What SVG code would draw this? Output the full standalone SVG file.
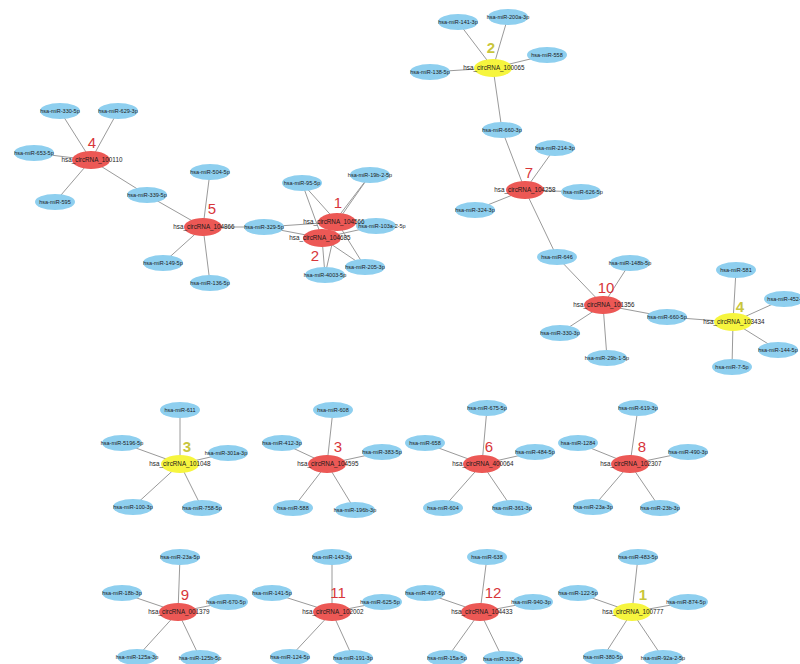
<svg xmlns="http://www.w3.org/2000/svg" width="800" height="664" viewBox="0 0 800 664">
<style>
.e{stroke:#9a9a9a;stroke-width:1;fill:none}
.m{fill:#8ecfef}
.r{fill:#ec5855}
.y{fill:#f6f53e}
.t{font-family:"Liberation Sans",Arial,sans-serif;font-size:5.5px;fill:#1a1a1a;text-anchor:middle}
.ct{font-family:"Liberation Sans",Arial,sans-serif;font-size:6.3px;fill:#1a1a1a;text-anchor:middle}
.nr{font-family:"Liberation Sans",Arial,sans-serif;font-size:15px;fill:#d8363a;text-anchor:middle}
.ny{font-family:"Liberation Sans",Arial,sans-serif;font-size:15px;fill:#c9c63c;text-anchor:middle;font-weight:bold}
</style>
<rect width="800" height="664" fill="#ffffff"/>
<g id="connectors">
<line class="e" x1="91" y1="160" x2="60" y2="111"/>
<line class="e" x1="91" y1="160" x2="118" y2="111"/>
<line class="e" x1="91" y1="160" x2="34" y2="153"/>
<line class="e" x1="91" y1="160" x2="55" y2="202"/>
<line class="e" x1="91" y1="160" x2="147" y2="195"/>
<line class="e" x1="203" y1="227" x2="147" y2="195"/>
<line class="e" x1="203" y1="227" x2="210" y2="172"/>
<line class="e" x1="203" y1="227" x2="163" y2="263"/>
<line class="e" x1="203" y1="227" x2="210" y2="283"/>
<line class="e" x1="203" y1="227" x2="264" y2="227"/>
<line class="e" x1="337" y1="222" x2="264" y2="227"/>
<line class="e" x1="337" y1="222" x2="302" y2="183"/>
<line class="e" x1="337" y1="222" x2="370" y2="175"/>
<line class="e" x1="337" y1="222" x2="376" y2="226"/>
<line class="e" x1="337" y1="222" x2="365" y2="267"/>
<line class="e" x1="337" y1="222" x2="325" y2="275"/>
<line class="e" x1="322" y1="238" x2="264" y2="227"/>
<line class="e" x1="322" y1="238" x2="302" y2="183"/>
<line class="e" x1="322" y1="238" x2="370" y2="175"/>
<line class="e" x1="322" y1="238" x2="376" y2="226"/>
<line class="e" x1="322" y1="238" x2="365" y2="267"/>
<line class="e" x1="322" y1="238" x2="325" y2="275"/>
<line class="e" x1="493" y1="68" x2="458" y2="22"/>
<line class="e" x1="493" y1="68" x2="508" y2="17"/>
<line class="e" x1="493" y1="68" x2="547" y2="55"/>
<line class="e" x1="493" y1="68" x2="430" y2="72"/>
<line class="e" x1="493" y1="68" x2="502" y2="130"/>
<line class="e" x1="525" y1="190" x2="502" y2="130"/>
<line class="e" x1="525" y1="190" x2="555" y2="148"/>
<line class="e" x1="525" y1="190" x2="581" y2="192"/>
<line class="e" x1="525" y1="190" x2="475" y2="210"/>
<line class="e" x1="525" y1="190" x2="557" y2="257"/>
<line class="e" x1="603" y1="305" x2="557" y2="257"/>
<line class="e" x1="603" y1="305" x2="630" y2="263"/>
<line class="e" x1="603" y1="305" x2="560" y2="333"/>
<line class="e" x1="603" y1="305" x2="607" y2="358"/>
<line class="e" x1="603" y1="305" x2="667" y2="317"/>
<line class="e" x1="733" y1="322" x2="667" y2="317"/>
<line class="e" x1="733" y1="322" x2="736" y2="270"/>
<line class="e" x1="733" y1="322" x2="784" y2="299"/>
<line class="e" x1="733" y1="322" x2="778" y2="350"/>
<line class="e" x1="733" y1="322" x2="732" y2="367"/>
<line class="e" x1="180" y1="464" x2="180" y2="410"/>
<line class="e" x1="180" y1="464" x2="122" y2="443"/>
<line class="e" x1="180" y1="464" x2="228" y2="453"/>
<line class="e" x1="180" y1="464" x2="133" y2="507"/>
<line class="e" x1="180" y1="464" x2="202" y2="508"/>
<line class="e" x1="327" y1="464" x2="333" y2="410"/>
<line class="e" x1="327" y1="464" x2="282" y2="443"/>
<line class="e" x1="327" y1="464" x2="382" y2="452"/>
<line class="e" x1="327" y1="464" x2="293" y2="508"/>
<line class="e" x1="327" y1="464" x2="355" y2="510"/>
<line class="e" x1="482" y1="464" x2="487" y2="408"/>
<line class="e" x1="482" y1="464" x2="425" y2="443"/>
<line class="e" x1="482" y1="464" x2="535" y2="452"/>
<line class="e" x1="482" y1="464" x2="443" y2="508"/>
<line class="e" x1="482" y1="464" x2="512" y2="508"/>
<line class="e" x1="630" y1="464" x2="638" y2="408"/>
<line class="e" x1="630" y1="464" x2="578" y2="443"/>
<line class="e" x1="630" y1="464" x2="688" y2="452"/>
<line class="e" x1="630" y1="464" x2="593" y2="507"/>
<line class="e" x1="630" y1="464" x2="660" y2="508"/>
<line class="e" x1="178" y1="612" x2="180" y2="557"/>
<line class="e" x1="178" y1="612" x2="122" y2="593"/>
<line class="e" x1="178" y1="612" x2="228" y2="602"/>
<line class="e" x1="178" y1="612" x2="137" y2="657"/>
<line class="e" x1="178" y1="612" x2="200" y2="658"/>
<line class="e" x1="332" y1="612" x2="332" y2="557"/>
<line class="e" x1="332" y1="612" x2="272" y2="593"/>
<line class="e" x1="332" y1="612" x2="382" y2="602"/>
<line class="e" x1="332" y1="612" x2="290" y2="657"/>
<line class="e" x1="332" y1="612" x2="353" y2="658"/>
<line class="e" x1="480" y1="612" x2="487" y2="557"/>
<line class="e" x1="480" y1="612" x2="425" y2="593"/>
<line class="e" x1="480" y1="612" x2="533" y2="602"/>
<line class="e" x1="480" y1="612" x2="447" y2="658"/>
<line class="e" x1="480" y1="612" x2="503" y2="659"/>
<line class="e" x1="632" y1="612" x2="638" y2="557"/>
<line class="e" x1="632" y1="612" x2="578" y2="593"/>
<line class="e" x1="632" y1="612" x2="688" y2="602"/>
<line class="e" x1="632" y1="612" x2="603" y2="657"/>
<line class="e" x1="632" y1="612" x2="663" y2="658"/>
</g>
<g id="m330_5p"><ellipse class="m" cx="60" cy="111" rx="20" ry="8"/><text class="t" x="60" y="113">hsa-miR-330-5p</text></g>
<g id="m629_3p"><ellipse class="m" cx="118" cy="111" rx="20" ry="8"/><text class="t" x="118" y="113">hsa-miR-629-3p</text></g>
<g id="m653_5p"><ellipse class="m" cx="34" cy="153" rx="20" ry="8"/><text class="t" x="34" y="155">hsa-miR-653-5p</text></g>
<g id="m595"><ellipse class="m" cx="55" cy="202" rx="20" ry="8"/><text class="t" x="55" y="204">hsa-miR-595</text></g>
<g id="m339_5p"><ellipse class="m" cx="147" cy="195" rx="20" ry="8"/><text class="t" x="147" y="197">hsa-miR-339-5p</text></g>
<g id="m504_5p"><ellipse class="m" cx="210" cy="172" rx="20" ry="8"/><text class="t" x="210" y="174">hsa-miR-504-5p</text></g>
<g id="m149_5p"><ellipse class="m" cx="163" cy="263" rx="20" ry="8"/><text class="t" x="163" y="265">hsa-miR-149-5p</text></g>
<g id="m136_5p"><ellipse class="m" cx="210" cy="283" rx="20" ry="8"/><text class="t" x="210" y="285">hsa-miR-136-5p</text></g>
<g id="m329_5p"><ellipse class="m" cx="264" cy="227" rx="20" ry="8"/><text class="t" x="264" y="229">hsa-miR-329-5p</text></g>
<g id="m95_5p"><ellipse class="m" cx="302" cy="183" rx="20" ry="8"/><text class="t" x="302" y="185">hsa-miR-95-5p</text></g>
<g id="m19b_2_5p"><ellipse class="m" cx="370" cy="175" rx="20" ry="8"/><text class="t" x="370" y="177">hsa-miR-19b-2-5p</text></g>
<g id="m103a_2_5p"><ellipse class="m" cx="376" cy="226" rx="20" ry="8"/><text class="t" x="382" y="228">hsa-miR-103a-2-5p</text></g>
<g id="m205_3p"><ellipse class="m" cx="365" cy="267" rx="20" ry="8"/><text class="t" x="365" y="269">hsa-miR-205-3p</text></g>
<g id="m4003_5p"><ellipse class="m" cx="325" cy="275" rx="20" ry="8"/><text class="t" x="325" y="277">hsa-miR-4003-5p</text></g>
<g id="m141_3p"><ellipse class="m" cx="458" cy="22" rx="20" ry="8"/><text class="t" x="458" y="24">hsa-miR-141-3p</text></g>
<g id="m200a_3p"><ellipse class="m" cx="508" cy="17" rx="20" ry="8"/><text class="t" x="508" y="19">hsa-miR-200a-3p</text></g>
<g id="m558"><ellipse class="m" cx="547" cy="55" rx="20" ry="8"/><text class="t" x="547" y="57">hsa-miR-558</text></g>
<g id="m138_5p"><ellipse class="m" cx="430" cy="72" rx="20" ry="8"/><text class="t" x="430" y="74">hsa-miR-138-5p</text></g>
<g id="m660_3p"><ellipse class="m" cx="502" cy="130" rx="20" ry="8"/><text class="t" x="502" y="132">hsa-miR-660-3p</text></g>
<g id="m214_3p"><ellipse class="m" cx="555" cy="148" rx="20" ry="8"/><text class="t" x="555" y="150">hsa-miR-214-3p</text></g>
<g id="m626_5p"><ellipse class="m" cx="581" cy="192" rx="20" ry="8"/><text class="t" x="583" y="194">hsa-miR-626-5p</text></g>
<g id="m324_3p"><ellipse class="m" cx="475" cy="210" rx="20" ry="8"/><text class="t" x="475" y="212">hsa-miR-324-3p</text></g>
<g id="m646"><ellipse class="m" cx="557" cy="257" rx="20" ry="8"/><text class="t" x="557" y="259">hsa-miR-646</text></g>
<g id="m148b_5p"><ellipse class="m" cx="630" cy="263" rx="20" ry="8"/><text class="t" x="630" y="265">hsa-miR-148b-5p</text></g>
<g id="m330_3p"><ellipse class="m" cx="560" cy="333" rx="20" ry="8"/><text class="t" x="560" y="335">hsa-miR-330-3p</text></g>
<g id="m29b_1_5p"><ellipse class="m" cx="607" cy="358" rx="20" ry="8"/><text class="t" x="607" y="360">hsa-miR-29b-1-5p</text></g>
<g id="m660_5p"><ellipse class="m" cx="667" cy="317" rx="20" ry="8"/><text class="t" x="667" y="319">hsa-miR-660-5p</text></g>
<g id="m581"><ellipse class="m" cx="736" cy="270" rx="20" ry="8"/><text class="t" x="736" y="272">hsa-miR-581</text></g>
<g id="m452"><ellipse class="m" cx="784" cy="299" rx="20" ry="8"/><text class="t" x="784" y="301">hsa-miR-452-</text></g>
<g id="m144_5p"><ellipse class="m" cx="778" cy="350" rx="20" ry="8"/><text class="t" x="778" y="352">hsa-miR-144-5p</text></g>
<g id="m7_5p"><ellipse class="m" cx="732" cy="367" rx="20" ry="8"/><text class="t" x="732" y="369">hsa-miR-7-5p</text></g>
<g id="m611"><ellipse class="m" cx="180" cy="410" rx="20" ry="8"/><text class="t" x="180" y="412">hsa-miR-611</text></g>
<g id="m5196_5p"><ellipse class="m" cx="122" cy="443" rx="20" ry="8"/><text class="t" x="122" y="445">hsa-miR-5196-5p</text></g>
<g id="m301a_3p"><ellipse class="m" cx="228" cy="453" rx="20" ry="8"/><text class="t" x="226" y="455">hsa-miR-301a-3p</text></g>
<g id="m100_3p"><ellipse class="m" cx="133" cy="507" rx="20" ry="8"/><text class="t" x="133" y="509">hsa-miR-100-3p</text></g>
<g id="m758_5p"><ellipse class="m" cx="202" cy="508" rx="20" ry="8"/><text class="t" x="202" y="510">hsa-miR-758-5p</text></g>
<g id="m608"><ellipse class="m" cx="333" cy="410" rx="20" ry="8"/><text class="t" x="333" y="412">hsa-miR-608</text></g>
<g id="m412_3p"><ellipse class="m" cx="282" cy="443" rx="20" ry="8"/><text class="t" x="282" y="445">hsa-miR-412-3p</text></g>
<g id="m383_5p"><ellipse class="m" cx="382" cy="452" rx="20" ry="8"/><text class="t" x="382" y="454">hsa-miR-383-5p</text></g>
<g id="m588"><ellipse class="m" cx="293" cy="508" rx="20" ry="8"/><text class="t" x="293" y="510">hsa-miR-588</text></g>
<g id="m196b_3p"><ellipse class="m" cx="355" cy="510" rx="20" ry="8"/><text class="t" x="355" y="512">hsa-miR-196b-3p</text></g>
<g id="m675_5p"><ellipse class="m" cx="487" cy="408" rx="20" ry="8"/><text class="t" x="487" y="410">hsa-miR-675-5p</text></g>
<g id="m658"><ellipse class="m" cx="425" cy="443" rx="20" ry="8"/><text class="t" x="425" y="445">hsa-miR-658</text></g>
<g id="m484_5p"><ellipse class="m" cx="535" cy="452" rx="20" ry="8"/><text class="t" x="535" y="454">hsa-miR-484-5p</text></g>
<g id="m604"><ellipse class="m" cx="443" cy="508" rx="20" ry="8"/><text class="t" x="443" y="510">hsa-miR-604</text></g>
<g id="m361_3p"><ellipse class="m" cx="512" cy="508" rx="20" ry="8"/><text class="t" x="512" y="510">hsa-miR-361-3p</text></g>
<g id="m619_3p"><ellipse class="m" cx="638" cy="408" rx="20" ry="8"/><text class="t" x="638" y="410">hsa-miR-619-3p</text></g>
<g id="m1284"><ellipse class="m" cx="578" cy="443" rx="20" ry="8"/><text class="t" x="578" y="445">hsa-miR-1284</text></g>
<g id="m490_3p"><ellipse class="m" cx="688" cy="452" rx="20" ry="8"/><text class="t" x="688" y="454">hsa-miR-490-3p</text></g>
<g id="m23a_3p"><ellipse class="m" cx="593" cy="507" rx="20" ry="8"/><text class="t" x="593" y="509">hsa-miR-23a-3p</text></g>
<g id="m23b_3p"><ellipse class="m" cx="660" cy="508" rx="20" ry="8"/><text class="t" x="660" y="510">hsa-miR-23b-3p</text></g>
<g id="m23a_5p"><ellipse class="m" cx="180" cy="557" rx="20" ry="8"/><text class="t" x="180" y="559">hsa-miR-23a-5p</text></g>
<g id="m18b_3p"><ellipse class="m" cx="122" cy="593" rx="20" ry="8"/><text class="t" x="122" y="595">hsa-miR-18b-3p</text></g>
<g id="m670_5p"><ellipse class="m" cx="228" cy="602" rx="20" ry="8"/><text class="t" x="226" y="604">hsa-miR-670-5p</text></g>
<g id="m125a_3p"><ellipse class="m" cx="137" cy="657" rx="20" ry="8"/><text class="t" x="137" y="659">hsa-miR-125a-3p</text></g>
<g id="m125b_5p"><ellipse class="m" cx="200" cy="658" rx="20" ry="8"/><text class="t" x="200" y="660">hsa-miR-125b-5p</text></g>
<g id="m143_3p"><ellipse class="m" cx="332" cy="557" rx="20" ry="8"/><text class="t" x="332" y="559">hsa-miR-143-3p</text></g>
<g id="m141_5p"><ellipse class="m" cx="272" cy="593" rx="20" ry="8"/><text class="t" x="272" y="595">hsa-miR-141-5p</text></g>
<g id="m625_5p"><ellipse class="m" cx="382" cy="602" rx="20" ry="8"/><text class="t" x="380" y="604">hsa-miR-625-5p</text></g>
<g id="m124_5p"><ellipse class="m" cx="290" cy="657" rx="20" ry="8"/><text class="t" x="290" y="659">hsa-miR-124-5p</text></g>
<g id="m191_3p"><ellipse class="m" cx="353" cy="658" rx="20" ry="8"/><text class="t" x="353" y="660">hsa-miR-191-3p</text></g>
<g id="m638"><ellipse class="m" cx="487" cy="557" rx="20" ry="8"/><text class="t" x="487" y="559">hsa-miR-638</text></g>
<g id="m497_5p"><ellipse class="m" cx="425" cy="593" rx="20" ry="8"/><text class="t" x="425" y="595">hsa-miR-497-5p</text></g>
<g id="m940_3p"><ellipse class="m" cx="533" cy="602" rx="20" ry="8"/><text class="t" x="531" y="604">hsa-miR-940-3p</text></g>
<g id="m15a_5p"><ellipse class="m" cx="447" cy="658" rx="20" ry="8"/><text class="t" x="447" y="660">hsa-miR-15a-5p</text></g>
<g id="m335_3p"><ellipse class="m" cx="503" cy="659" rx="20" ry="8"/><text class="t" x="503" y="661">hsa-miR-335-3p</text></g>
<g id="m483_5p"><ellipse class="m" cx="638" cy="557" rx="20" ry="8"/><text class="t" x="638" y="559">hsa-miR-483-5p</text></g>
<g id="m122_5p"><ellipse class="m" cx="578" cy="593" rx="20" ry="8"/><text class="t" x="578" y="595">hsa-miR-122-5p</text></g>
<g id="m874_5p"><ellipse class="m" cx="688" cy="602" rx="20" ry="8"/><text class="t" x="686" y="604">hsa-miR-874-5p</text></g>
<g id="m380_5p"><ellipse class="m" cx="603" cy="657" rx="20" ry="8"/><text class="t" x="603" y="659">hsa-miR-380-5p</text></g>
<g id="m92a_2_5p"><ellipse class="m" cx="663" cy="658" rx="20" ry="8"/><text class="t" x="663" y="660">hsa-miR-92a-2-5p</text></g>
<g id="c100110"><ellipse class="r" cx="91" cy="160" rx="19" ry="9"/><text class="ct" x="92" y="162">hsa_circRNA_100110</text><text class="nr" x="92" y="148">4</text></g>
<g id="c104866"><ellipse class="r" cx="203" cy="227" rx="19" ry="9"/><text class="ct" x="204" y="229">hsa_circRNA_104866</text><text class="nr" x="212" y="214">5</text></g>
<g id="c104566"><ellipse class="r" cx="337" cy="222" rx="19" ry="9"/><text class="ct" x="334" y="224">hsa_circRNA_104566</text><text class="nr" x="338" y="208">1</text></g>
<g id="c104685"><ellipse class="r" cx="322" cy="238" rx="19" ry="9"/><text class="ct" x="320" y="240">hsa_circRNA_104685</text><text class="nr" x="315" y="261">2</text></g>
<g id="c100065"><ellipse class="y" cx="493" cy="68" rx="19" ry="9"/><text class="ct" x="494" y="70">hsa_circRNA_100065</text><text class="ny" x="491" y="53">2</text></g>
<g id="c104258"><ellipse class="r" cx="525" cy="190" rx="19" ry="9"/><text class="ct" x="525" y="192">hsa_circRNA_104258</text><text class="nr" x="529" y="178">7</text></g>
<g id="c101356"><ellipse class="r" cx="603" cy="305" rx="19" ry="9"/><text class="ct" x="604" y="307">hsa_circRNA_101356</text><text class="nr" x="606" y="293">10</text></g>
<g id="c103434"><ellipse class="y" cx="733" cy="322" rx="19" ry="9"/><text class="ct" x="734" y="324">hsa_circRNA_103434</text><text class="ny" x="740" y="312">4</text></g>
<g id="c101048"><ellipse class="y" cx="180" cy="464" rx="19" ry="9"/><text class="ct" x="180" y="466">hsa_circRNA_101048</text><text class="ny" x="187" y="452">3</text></g>
<g id="c104595"><ellipse class="r" cx="327" cy="464" rx="19" ry="9"/><text class="ct" x="328" y="466">hsa_circRNA_104595</text><text class="nr" x="338" y="452">3</text></g>
<g id="c400064"><ellipse class="r" cx="482" cy="464" rx="19" ry="9"/><text class="ct" x="483" y="466">hsa_circRNA_400064</text><text class="nr" x="489" y="452">6</text></g>
<g id="c102307"><ellipse class="r" cx="630" cy="464" rx="19" ry="9"/><text class="ct" x="631" y="466">hsa_circRNA_102307</text><text class="nr" x="642" y="452">8</text></g>
<g id="c001379"><ellipse class="r" cx="178" cy="612" rx="19" ry="9"/><text class="ct" x="179" y="614">hsa_circRNA_001379</text><text class="nr" x="185" y="600">9</text></g>
<g id="c102002"><ellipse class="r" cx="332" cy="612" rx="19" ry="9"/><text class="ct" x="333" y="614">hsa_circRNA_102002</text><text class="nr" x="338" y="598">11</text></g>
<g id="c104433"><ellipse class="r" cx="480" cy="612" rx="19" ry="9"/><text class="ct" x="482" y="614">hsa_circRNA_104433</text><text class="nr" x="493" y="598">12</text></g>
<g id="c100777"><ellipse class="y" cx="632" cy="612" rx="19" ry="9"/><text class="ct" x="633" y="614">hsa_circRNA_100777</text><text class="ny" x="643" y="600">1</text></g>
</svg>
